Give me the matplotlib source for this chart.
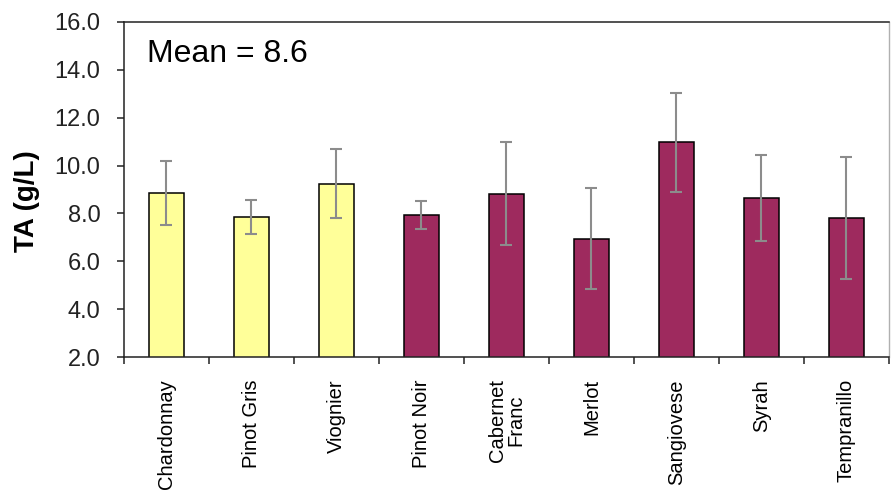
import numpy as np
import matplotlib
matplotlib.use("Agg")
import matplotlib.pyplot as plt

varieties = ["Chardonnay", "Pinot Gris", "Viognier", "Pinot Noir", "Cabernet\nFranc",
             "Merlot", "Sangiovese", "Syrah", "Tempranillo"]
ta_mean = [8.85, 7.85, 9.25, 7.93, 8.82, 6.95, 10.97, 8.63, 7.82]
ta_sd = [1.35, 0.70, 1.45, 0.60, 2.15, 2.10, 2.07, 1.80, 2.55]
is_white = [True, True, True, False, False, False, False, False, False]
overall_mean = 8.6

plt.rcParams["font.family"] = ["Liberation Sans", "DejaVu Sans"]

fig = plt.figure(figsize=(8.95, 4.91), dpi=100)
ax = fig.add_axes([124 / 895, 134 / 491, 765 / 895, 335 / 491])

x = np.arange(len(varieties))
colors = ["#FFFF99" if w else "#9E2A5E" for w in is_white]
ax.bar(x, ta_mean, width=0.41, bottom=0, color=colors, edgecolor="black",
       linewidth=1.1, zorder=2)
ax.errorbar(x, ta_mean, yerr=ta_sd, fmt="none", ecolor="#8c8c8c",
            elinewidth=1.5, capsize=4, capthick=1.5, zorder=3)

ax.set_xlim(-0.5, len(varieties) - 0.5)
ax.set_ylim(2, 16)
ax.set_yticks(np.arange(2, 16.1, 2))
ax.set_yticklabels([f"{v:.1f}" for v in np.arange(2, 16.1, 2)])

# labels centred under bars, tick marks between categories
ax.set_xticks(x)
ax.set_xticklabels(varieties, rotation=90, va="top", ha="center", fontsize=14.5,
                   linespacing=0.95)
ax.set_xticks(np.arange(-0.5, len(varieties), 1), minor=True)
ax.tick_params(axis="x", which="major", length=0, pad=16)
ax.tick_params(axis="x", which="minor", length=5, width=1.1, direction="out",
               color="#222222")
ax.tick_params(axis="y", length=5, width=1.1, direction="out", pad=12,
               labelsize=17, color="#222222", labelcolor="#222222")

for side in ["left", "bottom", "top"]:
    ax.spines[side].set_color("#222222")
    ax.spines[side].set_linewidth(1.1)
ax.spines["right"].set_color("#b0b0b0")
ax.spines["right"].set_linewidth(1.0)

ax.text(0.030, 0.881, f"Mean = {overall_mean}", transform=ax.transAxes,
        fontsize=23, ha="left", va="baseline")

fig.text(27 / 895, 1 - 201.5 / 491, "TA (g/L)", rotation=90, ha="center",
         va="center", fontsize=20, fontweight="bold")

fig.savefig("out.png", dpi=100)
